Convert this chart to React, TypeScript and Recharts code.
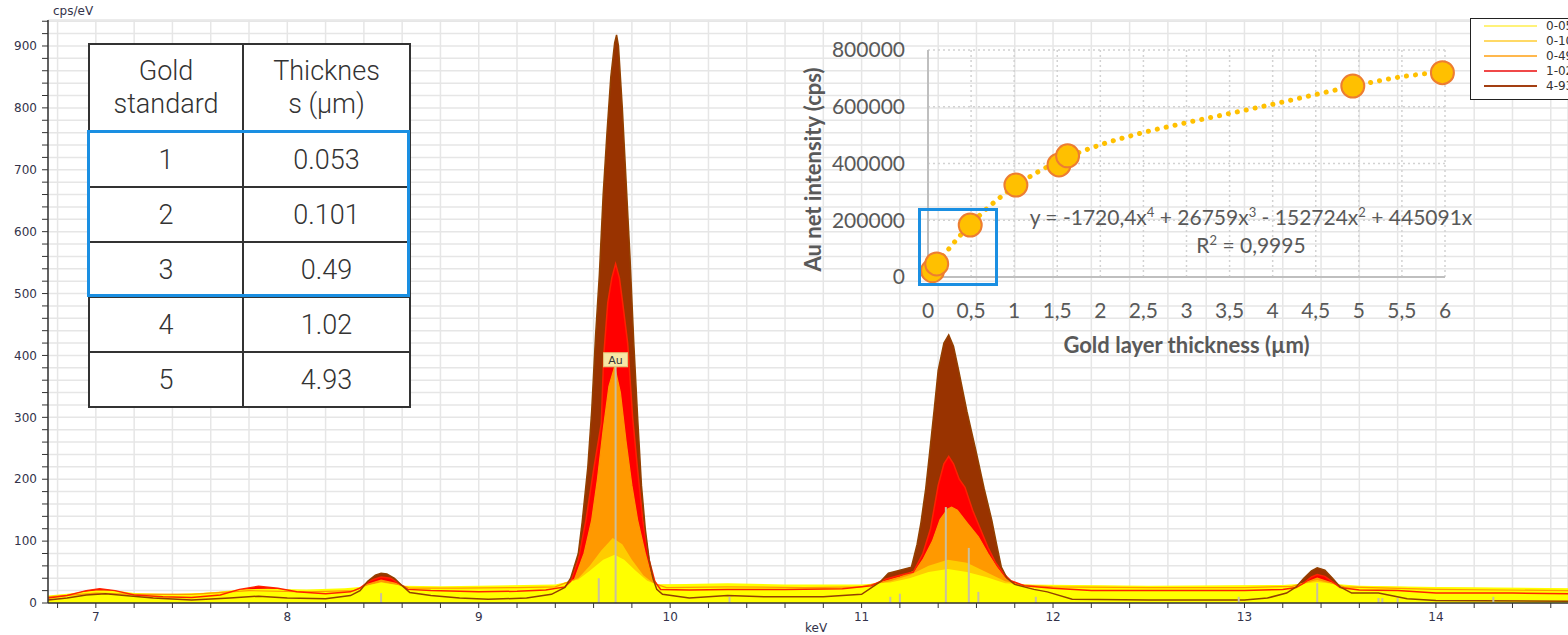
import React from "react";
import {
  ComposedChart,
  Area,
  Line,
  Scatter,
  XAxis,
  YAxis,
  CartesianGrid,
  ReferenceLine,
  ReferenceDot,
  Label,
} from "recharts";

type Pt = [number, number];

// XRF spectra of the gold standards, [keV, cps/eV]
const spec053: Pt[] = [
  [6.75, 12], [6.85, 15], [7.0, 20], [7.1, 20], [7.2, 16], [7.4, 14], [7.6, 17], [7.75, 22],
  [7.9, 23], [8.1, 22], [8.3, 24], [8.38, 26], [8.49, 33], [8.6, 28], [8.8, 27], [9.0, 28],
  [9.4, 30], [9.52, 38], [9.58, 52], [9.65, 70], [9.71, 78], [9.76, 70], [9.82, 52], [9.88, 36],
  [9.93, 30], [10.3, 32], [10.6, 30], [11.0, 30], [11.15, 33], [11.25, 40], [11.35, 50],
  [11.45, 55], [11.55, 50], [11.65, 42], [11.75, 32], [11.85, 30], [12.5, 28], [13.2, 29],
  [13.3, 31], [13.38, 34], [13.46, 31], [13.6, 28], [14.0, 26], [14.69, 24],
];

const spec101: Pt[] = [
  [6.75, 11], [7.0, 18], [7.2, 15], [7.5, 15], [7.8, 21], [8.1, 20], [8.35, 22], [8.49, 34],
  [8.62, 26], [9.0, 26], [9.4, 28], [9.52, 40], [9.58, 60], [9.64, 85], [9.7, 105], [9.75, 95],
  [9.8, 70], [9.86, 45], [9.92, 30], [10.3, 29], [11.0, 28], [11.15, 35], [11.25, 45],
  [11.35, 60], [11.45, 70], [11.55, 65], [11.65, 50], [11.75, 35], [11.85, 29], [12.5, 27],
  [13.25, 28], [13.38, 37], [13.5, 28], [14.0, 25], [14.69, 23],
];

const spec049: Pt[] = [
  [6.75, 10], [7.0, 16], [7.2, 14], [7.5, 14], [7.8, 20], [8.1, 18], [8.35, 20], [8.42, 30],
  [8.49, 37], [8.56, 32], [8.64, 24], [8.9, 24], [9.2, 25], [9.4, 26], [9.5, 38], [9.55, 80],
  [9.59, 134], [9.62, 200], [9.65, 280], [9.68, 350], [9.71, 382], [9.74, 340], [9.77, 260],
  [9.8, 190], [9.83, 134], [9.87, 80], [9.9, 45], [9.93, 30], [9.98, 25], [10.3, 26],
  [10.7, 25], [11.0, 26], [11.12, 35], [11.2, 42], [11.28, 52], [11.32, 70], [11.37, 100],
  [11.41, 135], [11.45, 152], [11.47, 155], [11.5, 150], [11.55, 130], [11.61, 107],
  [11.66, 80], [11.705, 58], [11.75, 40], [11.8, 30], [12.0, 26], [12.5, 25], [13.0, 25],
  [13.25, 27], [13.31, 32], [13.38, 40], [13.45, 33], [13.52, 26], [14.0, 22], [14.69, 20],
];

const spec102: Pt[] = [
  [6.75, 8], [6.85, 12], [6.95, 20], [7.02, 23], [7.1, 20], [7.2, 13], [7.35, 10], [7.5, 9],
  [7.65, 13], [7.75, 22], [7.85, 27], [7.95, 24], [8.05, 18], [8.2, 15], [8.33, 18], [8.38, 24],
  [8.43, 36], [8.49, 42], [8.54, 40], [8.58, 32], [8.63, 22], [8.75, 20], [9.0, 18], [9.2, 19],
  [9.35, 21], [9.45, 26], [9.48, 35], [9.52, 70], [9.56, 134], [9.6, 215], [9.64, 290],
  [9.653, 400], [9.674, 485], [9.695, 525], [9.715, 548], [9.735, 525], [9.752, 485],
  [9.778, 420], [9.804, 300], [9.83, 215], [9.857, 134], [9.89, 70], [9.92, 35], [9.95, 22],
  [10.1, 21], [10.3, 22], [10.6, 22], [10.9, 23], [11.05, 28], [11.12, 38], [11.2, 45],
  [11.27, 50], [11.32, 80], [11.36, 120], [11.4, 190], [11.43, 225], [11.455, 237], [11.48, 225],
  [11.51, 200], [11.54, 187], [11.58, 150], [11.62, 120], [11.66, 90], [11.7, 65], [11.74, 48],
  [11.78, 36], [11.85, 28], [12.0, 24], [12.2, 20], [12.6, 20], [13.0, 20], [13.2, 22],
  [13.27, 25], [13.31, 32], [13.35, 42], [13.38, 46], [13.42, 43], [13.46, 34], [13.5, 25],
  [13.6, 21], [13.8, 20], [14.0, 16], [14.4, 16], [14.69, 15],
];

const spec493: Pt[] = [
  [6.75, 5], [6.85, 8], [6.95, 13], [7.05, 15], [7.15, 12], [7.3, 8], [7.5, 5], [7.7, 8],
  [7.85, 11], [8.0, 8], [8.2, 7], [8.33, 12], [8.38, 20], [8.42, 35], [8.46, 45], [8.49, 48],
  [8.52, 47], [8.56, 40], [8.6, 28], [8.64, 17], [8.75, 12], [8.9, 8], [9.05, 6], [9.25, 8],
  [9.38, 14], [9.45, 25], [9.48, 40], [9.52, 80], [9.54, 130], [9.57, 220], [9.59, 310],
  [9.61, 430], [9.63, 530], [9.65, 660], [9.67, 760], [9.69, 850], [9.71, 905], [9.72, 918],
  [9.73, 900], [9.75, 800], [9.77, 680], [9.79, 560], [9.81, 420], [9.83, 300], [9.85, 190],
  [9.87, 120], [9.89, 70], [9.91, 40], [9.93, 22], [9.96, 14], [10.1, 8], [10.3, 12], [10.5, 10],
  [10.8, 10], [11.0, 14], [11.1, 35], [11.14, 48], [11.2, 53], [11.26, 58], [11.29, 95],
  [11.31, 130], [11.335, 185], [11.355, 242], [11.38, 315], [11.4, 376], [11.43, 420],
  [11.455, 433], [11.48, 415], [11.507, 376], [11.55, 310], [11.6, 242], [11.64, 185],
  [11.68, 134], [11.705, 95], [11.73, 58], [11.76, 40], [11.8, 30], [11.9, 22], [11.97, 18],
  [12.1, 6], [12.5, 5], [13.0, 5], [13.12, 8], [13.22, 16], [13.27, 26], [13.31, 40], [13.35, 52],
  [13.38, 57], [13.42, 53], [13.46, 40], [13.5, 26], [13.56, 16], [13.7, 16], [13.85, 7],
  [14.0, 4], [14.69, 3],
];

// element marker lines [keV, height]
const markerLines: Pt[] = [
  [8.49, 16], [9.627, 40], [9.715, 385], [10.31, 10], [11.15, 10], [11.2, 15], [11.44, 155],
  [11.56, 89], [11.61, 18], [11.91, 10], [12.97, 10], [13.38, 32], [13.7, 8], [13.72, 8],
  [13.8, 8], [14.3, 10],
];

const xTicks = [
  6.8, 7, 7.2, 7.4, 7.6, 7.8, 8, 8.2, 8.4, 8.6, 8.8, 9, 9.2, 9.4, 9.6, 9.8, 10, 10.2, 10.4, 10.6,
  10.8, 11, 11.2, 11.4, 11.6, 11.8, 12, 12.2, 12.4, 12.6, 12.8, 13, 13.2, 13.4, 13.6, 13.8, 14,
  14.2, 14.4, 14.6,
];
const yTicks = [
  0, 20, 40, 60, 80, 100, 120, 140, 160, 180, 200, 220, 240, 260, 280, 300, 320, 340, 360, 380,
  400, 420, 440, 460, 480, 500, 520, 540, 560, 580, 600, 620, 640, 660, 680, 700, 720, 740, 760,
  780, 800, 820, 840, 860, 880, 900, 920, 940,
];

// calibration inset
const thickness = [0.053, 0.101, 0.49, 1.02, 1.52, 1.62, 4.93, 5.97];
const intensity = [22000, 46000, 183000, 324000, 395000, 427000, 673000, 720000];
const trendT = [0.05, 0.125, 0.25, 0.5, 0.75, 1, 1.25, 1.5, 1.75, 2, 2.5, 3, 3.5, 4, 4.5, 5, 5.5, 5.97];
const trendI = [
  21900, 53300, 102100, 187600, 258700, 317400, 365800, 405600, 438500, 465800, 509100, 543900,
  576100, 608900, 643200, 677000, 705900, 722300,
];
const insetXTicks = [0, 0.5, 1, 1.5, 2, 2.5, 3, 3.5, 4, 4.5, 5, 5.5, 6];
const insetYTicks = [0, 200000, 400000, 600000, 800000];

// table
const standards = ["1", "2", "3", "4", "5"];
const thicknessLabels = ["0.053", "0.101", "0.49", "1.02", "4.93"];

const SERIES = [
  { name: "4-93 µm", pts: spec493, fill: "#993300", legend: "#a33f12" },
  { name: "1-02 µm", pts: spec102, fill: "#ff0000", legend: "#f04848" },
  { name: "0-49 µm", pts: spec049, fill: "#ff9900", legend: "#ffb84d" },
  { name: "0-101 µm", pts: spec101, fill: "#ffcc00", legend: "#ffd966" },
  { name: "0-053 µm", pts: spec053, fill: "#ffff00", legend: "#fff27a" },
];

const toRows = (pts: Pt[]) => pts.map(([e, c]) => ({ e, c }));
const trendRows = trendT.map((t, i) => ({ t, i: trendI[i] }));
const pointRows = thickness.map((t, i) => ({ t, i: intensity[i] }));

const tickFont = { fontFamily: "DejaVu Sans, sans-serif", fontSize: 12, fill: "#33334a" };
const insetFont = { fontFamily: "Lato, sans-serif", fontSize: 21, fill: "#595959" };
const sup = { fontSize: 13, position: "relative" as const, top: -8, lineHeight: 0 };
const cell = { border: "2.5px solid #333", padding: 0 };

function AuTag(props: any) {
  const { cx, cy } = props;
  return (
    <g>
      <rect x={cx - 12} y={cy - 7} width={24} height={14} fill="#f7e7a6" stroke="#e0cc7c" />
      <text x={cx} y={cy + 4} textAnchor="middle" fontFamily="DejaVu Sans" fontSize={11} fill="#333">
        Au
      </text>
    </g>
  );
}

function Marker(props: any) {
  return <circle cx={props.cx} cy={props.cy} r={11.5} fill="#ffc000" stroke="#ed7d31" strokeWidth={2} />;
}

export default function App() {
  return (
    <div style={{ position: "absolute", left: 0, top: 0, width: 1568, height: 635, overflow: "hidden", background: "#fff" }}>
      <ComposedChart width={1568} height={635} margin={{ top: 20, right: 0, bottom: 0, left: 0 }}>
        <CartesianGrid stroke="#e6e6e6" strokeWidth={1.5} />
        <XAxis
          type="number"
          dataKey="e"
          domain={[6.75, 14.69]}
          allowDataOverflow
          ticks={xTicks}
          interval={0}
          height={32}
          tickSize={5}
          tickMargin={4}
          tick={tickFont}
          axisLine={{ stroke: "#333", strokeWidth: 1.5 }}
          tickLine={{ stroke: "#333" }}
          tickFormatter={(v: number) => (Math.abs(v - Math.round(v)) < 1e-6 ? String(Math.round(v)) : "")}
        >
          <Label
            content={() => (
              <text x={805} y={632} fontFamily="DejaVu Sans" fontSize={12} fill="#33334a">
                keV
              </text>
            )}
          />
        </XAxis>
        <YAxis
          type="number"
          domain={[0, 942]}
          allowDataOverflow
          ticks={yTicks}
          interval={0}
          width={48}
          tickSize={6}
          tickMargin={5}
          tick={tickFont}
          axisLine={{ stroke: "#333", strokeWidth: 1.5 }}
          tickLine={{ stroke: "#333" }}
          tickFormatter={(v: number) => (v % 100 === 0 ? String(v) : "")}
        >
          <Label
            content={() => (
              <text x={53} y={15} fontFamily="DejaVu Sans" fontSize={12} fill="#33334a">
                cps/eV
              </text>
            )}
          />
        </YAxis>
        {SERIES.map((s) => (
          <Area
            key={"a" + s.name}
            data={toRows(s.pts)}
            dataKey="c"
            type="linear"
            fill={s.fill}
            fillOpacity={1}
            stroke="none"
            isAnimationActive={false}
          />
        ))}
        <Line data={toRows(spec049)} dataKey="c" type="linear" stroke="#ff9900" strokeWidth={1.2} dot={false} isAnimationActive={false} />
        <Line data={toRows(spec102)} dataKey="c" type="linear" stroke="#ff2200" strokeWidth={1.5} dot={false} isAnimationActive={false} />
        <Line data={toRows(spec493)} dataKey="c" type="linear" stroke="#934000" strokeWidth={1.5} dot={false} isAnimationActive={false} />
        {markerLines.map(([e, h]) => (
          <ReferenceLine
            key={"m" + e}
            segment={[
              { x: e, y: 0 },
              { x: e, y: h },
            ]}
            stroke="#c9bf9f"
            strokeWidth={2}
          />
        ))}
        <ReferenceDot x={9.715} y={393} shape={AuTag} />
      </ComposedChart>

      {/* table of standards */}
      <table
        style={{
          position: "absolute",
          left: 88,
          top: 43,
          width: 321,
          height: 362,
          borderCollapse: "collapse",
          tableLayout: "fixed",
          background: "#fff",
          fontFamily: "Roboto, sans-serif",
          fontWeight: 300,
          fontSize: 27,
          color: "#333",
          textAlign: "center",
        }}
      >
        <colgroup>
          <col style={{ width: 154 }} />
          <col style={{ width: 167 }} />
        </colgroup>
        <tbody>
          <tr style={{ height: 88 }}>
            <td style={{ ...cell, lineHeight: "33px" }}>
              Gold
              <br />
              standard
            </td>
            <td style={{ ...cell, lineHeight: "33px" }}>
              Thicknes
              <br />s (µm)
            </td>
          </tr>
          {standards.map((s, i) => (
            <tr key={s} style={{ height: 55 }}>
              <td style={cell}>{s}</td>
              <td style={cell}>{thicknessLabels[i]}</td>
            </tr>
          ))}
        </tbody>
      </table>
      <div
        style={{
          position: "absolute",
          left: 87,
          top: 130,
          width: 323,
          height: 167,
          boxSizing: "border-box",
          border: "3px solid #1a8fe2",
        }}
      />

      {/* calibration inset */}
      <div style={{ position: "absolute", left: 800, top: 30 }}>
        <ComposedChart width={700} height={340} margin={{ top: 20, right: 55, bottom: 0, left: 0 }}>
          <CartesianGrid stroke="#d2d2d2" strokeDasharray="2 3" strokeWidth={1.5} />
          <XAxis
            type="number"
            dataKey="t"
            domain={[0, 6]}
            ticks={insetXTicks}
            interval={0}
            height={93}
            tickLine={false}
            tickSize={0}
            tickMargin={26}
            tick={insetFont}
            axisLine={{ stroke: "#bfbfbf", strokeWidth: 2 }}
            tickFormatter={(v: number) => String(v).replace(".", ",")}
          >
            <Label
              content={(p: any) => (
                <text
                  x={p.viewBox.x + p.viewBox.width / 2}
                  y={p.viewBox.y + 76}
                  textAnchor="middle"
                  fontFamily="Lato, sans-serif"
                  fontWeight={700}
                  fontSize={22}
                  fill="#595959"
                >
                  Gold layer thickness (µm)
                </text>
              )}
            />
          </XAxis>
          <YAxis
            type="number"
            dataKey="i"
            domain={[0, 800000]}
            ticks={insetYTicks}
            interval={0}
            width={128}
            tickLine={false}
            tickSize={0}
            tickMargin={23}
            tick={insetFont}
            axisLine={{ stroke: "#bfbfbf", strokeWidth: 2 }}
          >
            <Label
              content={(p: any) => {
                const cx = p.viewBox.x + 12;
                const cy = p.viewBox.y + p.viewBox.height / 2 + 6;
                return (
                  <text
                    x={cx}
                    y={cy}
                    transform={`rotate(-90, ${cx}, ${cy})`}
                    textAnchor="middle"
                    dominantBaseline="central"
                    fontFamily="Lato, sans-serif"
                    fontWeight={700}
                    fontSize={22}
                    fill="#595959"
                  >
                    Au net intensity (cps)
                  </text>
                );
              }}
            />
          </YAxis>
          <Line
            data={trendRows}
            dataKey="i"
            type="monotone"
            stroke="#ffc000"
            strokeWidth={5}
            strokeDasharray="0.1 9"
            strokeLinecap="round"
            dot={false}
            isAnimationActive={false}
          />
          <Scatter data={pointRows} dataKey="i" shape={Marker} isAnimationActive={false} />
        </ComposedChart>
      </div>
      <div
        style={{
          position: "absolute",
          left: 918,
          top: 208,
          width: 80,
          height: 78,
          boxSizing: "border-box",
          border: "3px solid #1a8fe2",
        }}
      />
      <div
        style={{
          position: "absolute",
          left: 1001,
          top: 203,
          width: 500,
          textAlign: "center",
          fontFamily: "Lato, sans-serif",
          fontSize: 21,
          lineHeight: "28px",
          color: "#595959",
          whiteSpace: "nowrap",
        }}
      >
        <div>
          y = -1720,4x<span style={sup}>4</span> + 26759x<span style={sup}>3</span> - 152724x
          <span style={sup}>2</span> + 445091x
        </div>
        <div>
          R<span style={sup}>2</span> = 0,9995
        </div>
      </div>

      {/* legend */}
      <div
        style={{
          position: "absolute",
          left: 1470,
          top: 18,
          width: 120,
          height: 80,
          border: "1px solid #222",
          background: "#fff",
          fontFamily: "DejaVu Sans, sans-serif",
          fontSize: 12,
          color: "#333",
        }}
      >
        {[...SERIES].reverse().map((s, i) => (
          <div
            key={s.name}
            style={{ position: "absolute", left: 13, top: i * 15.2 - 1, height: 15, display: "flex", alignItems: "center", whiteSpace: "nowrap" }}
          >
            <span style={{ display: "inline-block", width: 53, height: 2, background: s.legend }} />
            <span style={{ marginLeft: 9 }}>{s.name}</span>
          </div>
        ))}
      </div>
    </div>
  );
}
